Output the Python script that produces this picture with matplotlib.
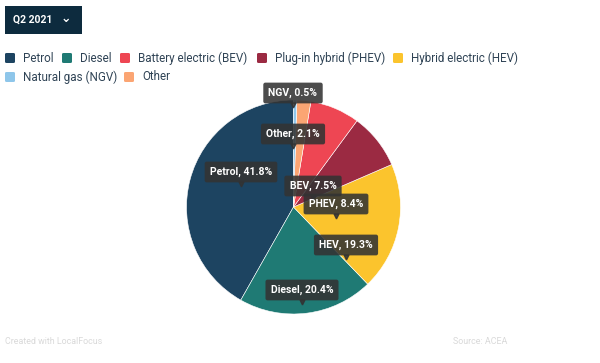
import matplotlib
matplotlib.use('Agg')
import matplotlib.pyplot as plt
from matplotlib.patches import FancyBboxPatch

# data, counterclockwise from 12 o'clock
names = ['Petrol', 'Diesel', 'HEV', 'PHEV', 'BEV', 'Other', 'NGV']
shares = [41.8, 20.4, 19.3, 8.4, 7.5, 2.1, 0.5]
colors = ['#1d4461', '#1f7a74', '#fbc42d', '#9b2a42', '#ee4653', '#fba573', '#8ec6ea']

legend_names = ['Petrol', 'Diesel', 'Battery electric (BEV)', 'Plug-in hybrid (PHEV)',
                'Hybrid electric (HEV)', 'Natural gas (NGV)', 'Other']
legend_colors = ['#1d4461', '#1f7a74', '#ee4653', '#9b2a42', '#fbc42d', '#8ec6ea', '#fba573']

# label box centres in pixels (x, y from top)
label_px = {'NGV': (293, 93), 'Other': (293, 134), 'Petrol': (241, 172), 'BEV': (313, 186),
            'PHEV': (336, 204), 'HEV': (346, 245), 'Diesel': (302, 290)}

W, H = 600, 363
plt.rcParams['font.family'] = ['Roboto', 'DejaVu Sans']
fig = plt.figure(figsize=(W / 100, H / 100), dpi=100)
fig.patch.set_facecolor('white')

cx, cy, r = 293.5, 207, 107
ax = fig.add_axes([(cx - r) / W, (H - cy - r) / H, 2 * r / W, 2 * r / H])
ax.pie(shares, colors=colors, startangle=90, counterclock=True, radius=1,
       wedgeprops=dict(edgecolor='white', linewidth=0.4))
ax.set_xlim(-1, 1)
ax.set_ylim(-1, 1)
ax.set_aspect('equal')
ax.axis('off')

for n, s in zip(names, shares):
    px, py = label_px[n]
    x = (px - cx) / r
    y = -(py - cy) / r
    ax.text(x, y, f'{n}, {s}%', ha='center', va='center', color='white', fontsize=7.5,
            fontweight='bold', zorder=5, clip_on=False,
            bbox=dict(boxstyle='round,pad=0.5,rounding_size=0.2', fc='#333333', ec='none', alpha=0.88))
    ax.plot([x], [y - 11.5 / r], marker='v', color='#333333', alpha=0.88, markersize=3.5,
            zorder=4, clip_on=False)

# dropdown button
fig.patches.append(FancyBboxPatch((5 / W, (H - 34) / H), 77 / W, 28 / H,
                                  boxstyle='square,pad=0', transform=fig.transFigure,
                                  fc='#0d2b3e', ec='none'))
fig.text(13 / W, 1 - 19.5 / H, 'Q2 2021', color='white', fontsize=7.5, fontweight='bold', va='center')
fig.text(66 / W, 1 - 19 / H, '\u2304', color='white', fontsize=9, fontweight='bold', va='center',
         ha='center', family=['DejaVu Sans'])

# legend
leg_pos = [(5, 58), (62, 58), (120, 58), (257, 58), (393, 58), (5, 77), (124, 77)]
for (lx, ly), name, c in zip(leg_pos, legend_names, legend_colors):
    fig.patches.append(FancyBboxPatch((lx / W, (H - ly - 5) / H), 10 / W, 10 / H,
                                      boxstyle='round,pad=0,rounding_size=0.003',
                                      transform=fig.transFigure, fc=c, ec='none'))
    fig.text((lx + 18) / W, 1 - ly / H, name, color='#2f4355', fontsize=8.4, va='center')

fig.text(5 / W, 1 - 341 / H, 'Created with LocalFocus', color='#d9d9d9', fontsize=6.4, va='center')
fig.text(507 / W, 1 - 341 / H, 'Source: ACEA', color='#d9d9d9', fontsize=6.4, va='center', ha='right')

fig.savefig('out.png', dpi=100, facecolor='white')
